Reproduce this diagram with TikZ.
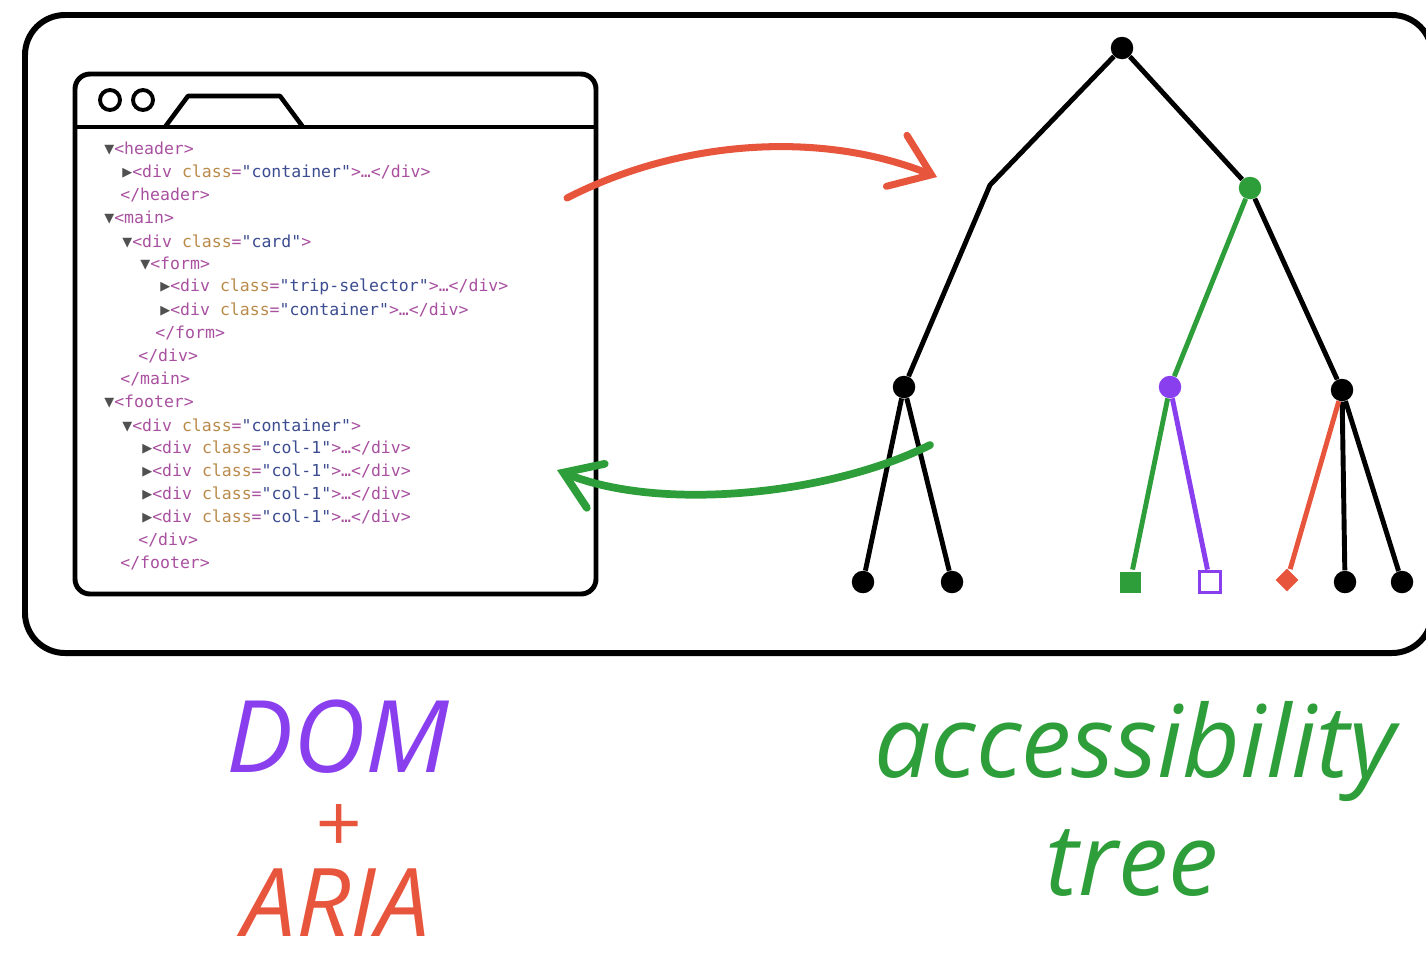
\documentclass[tikz,border=0pt]{standalone}
\usepackage{fontspec}
\setmainfont{Open Sans}
\newfontfamily\codefont{DejaVu Sans Mono}
\usetikzlibrary{arrows.meta}

\definecolor{redc}{HTML}{E8553D}
\definecolor{greenc}{HTML}{2E9E3A}
\definecolor{purplec}{HTML}{8A3FEF}
\definecolor{tagc}{HTML}{A8509F}
\definecolor{attc}{HTML}{B98A4A}
\definecolor{valc}{HTML}{3B4C90}
\definecolor{tric}{HTML}{505050}

\newcommand{\ctag}[1]{\textcolor{tagc}{#1}}
\newcommand{\cattr}[1]{\textcolor{attc}{#1}}
\newcommand{\cval}[1]{\textcolor{valc}{#1}}
\newcommand{\tridown}{\textcolor{tric}{▼}}
\newcommand{\triright}{\textcolor{tric}{▶}}
\newcommand{\divline}[2]{\ctag{<div} \cattr{class}\ctag{=}\cval{"#1"}\ctag{>#2}}

\begin{document}
\begin{tikzpicture}[x=0.02cm,y=-0.02cm,
  dot/.style={circle,fill=black,inner sep=0pt,minimum size=0.45cm},
  sq/.style={rectangle,inner sep=0pt,minimum size=0.42cm,line width=2.2pt},
  branch/.style={line width=2.8pt},
  codeline/.style={anchor=west,inner sep=0pt,font=\codefont\fontsize{9.4}{11}\selectfont},
  bigword/.style={inner sep=0pt,font=\itshape\fontsize{57}{60}\selectfont},
  redarrow/.style={draw=redc,line width=4pt,line cap=round,
    -{Straight Barb[length=0.75cm,width=1.1cm,line cap=round]}},
  greenarrow/.style={draw=greenc,line width=4.4pt,line cap=round,
    -{Straight Barb[length=0.7cm,width=0.95cm,line cap=round]}}]
 \useasboundingbox (0,0) rectangle (1426,961);
 \clip (0,0) rectangle (1426,961);

 % frame and browser window
 \draw[line width=3.4pt,rounded corners=0.8cm] (25,15) rectangle (1432,653);
 \draw[line width=2.8pt,rounded corners=0.3cm] (75,74) rectangle (596,594);
 \draw[line width=2.8pt] (75,127) -- (596,127);
 \draw[line width=2.2pt] (110,100) circle (0.2cm) (143,100) circle (0.2cm);
 \draw[line width=2.6pt,line join=round] (165,127) -- (188,96) -- (280,96) -- (303,127);

 % DOM source
 \node[codeline] (c1)  at (104,149) {\tridown\ctag{<header>}};
 \node[codeline] (c2)  at (122,172) {\triright\divline{container}{…</div>}};
 \node[codeline] (c3)  at (120,195) {\ctag{</header>}};
 \node[codeline] (c4)  at (104,218) {\tridown\ctag{<main>}};
 \node[codeline] (c5)  at (122,241) {\tridown\divline{card}{}};
 \node[codeline] (c6)  at (140,264) {\tridown\ctag{<form>}};
 \node[codeline] (c7)  at (160,287) {\triright\divline{trip-selector}{…</div>}};
 \node[codeline] (c8)  at (160,310) {\triright\divline{container}{…</div>}};
 \node[codeline] (c9)  at (155,333) {\ctag{</form>}};
 \node[codeline] (c10) at (138,356) {\ctag{</div>}};
 \node[codeline] (c11) at (120,379) {\ctag{</main>}};
 \node[codeline] (c12) at (104,402) {\tridown\ctag{<footer>}};
 \node[codeline] (c13) at (122,425) {\tridown\divline{container}{}};
 \foreach \y in {448,471,494,517}
   \node[codeline] (col\y) at (142,\y) {\triright\divline{col-1}{…</div>}};
 \node[codeline] (c18) at (138,540) {\ctag{</div>}};
 \node[codeline] (c19) at (120,563) {\ctag{</footer>}};

 % accessibility tree
 \node[dot] (root) at (1122,48) {};
 \coordinate (bend) at (990,185);
 \node[dot,fill=greenc] (g) at (1250,188) {};
 \node[dot] (l) at (904,387) {};
 \node[dot,fill=purplec] (p) at (1170,387) {};
 \node[dot] (r) at (1342,390) {};
 \foreach \n/\x in {l1/863,l2/952,r2/1345,r3/1402}
   \node[dot] (\n) at (\x,582) {};
 \node[sq,fill=greenc] (gs) at (1130,582) {};
 \node[sq,draw=purplec,fill=white] (ps) at (1210,582) {};
 \node[sq,fill=redc,rotate=45,minimum size=0.32cm] (rd) at (1287,580) {};

 \draw[branch] (root) -- (bend) -- (l);
 \draw[branch] (root) -- (g) -- (r);
 \draw[branch] (l) -- (l1) (l) -- (l2) (r) -- (r2) (r) -- (r3);
 \draw[branch,greenc] (g) -- (p) -- (gs);
 \draw[branch,purplec] (p) -- (ps);
 \draw[branch,redc] (r) -- (rd);

 % arrows
 \coordinate (rs) at (567,198);
 \coordinate (re) at (937,177);
 \coordinate (gs0) at (930,445);
 \coordinate (ge) at (557,470);
 \draw[redarrow] (rs) .. controls (680,140) and (820,130) .. (re);
 \draw[greenarrow] (gs0) .. controls (830,495) and (660,512) .. (ge);

 % labels
 \node[bigword,purplec,anchor=base] (dom) at (338,772) {DOM};
 \node[bigword,redc,font=\itshape\fontsize{46}{48}\selectfont] (plus) at (338,828) {+};
 \node[bigword,redc,anchor=base,font=\itshape\fontsize{54}{58}\selectfont] (aria) at (336,936) {ARIA};
 \node[bigword,greenc,anchor=base] (acc) at (1135,777) {accessibility};
 \node[bigword,greenc,anchor=base] (tree) at (1132,895) {tree};
\end{tikzpicture}
\end{document}
